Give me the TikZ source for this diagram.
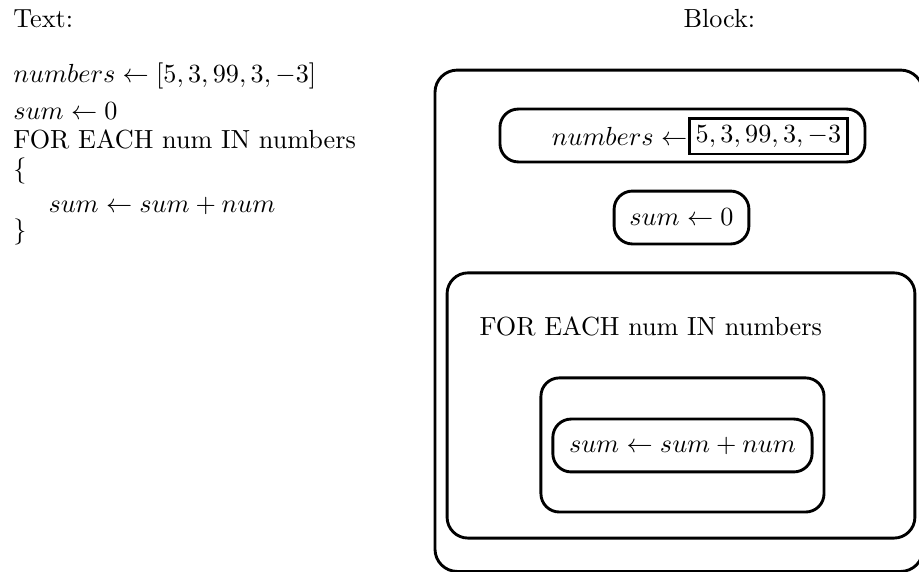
\documentclass[tikz,border=0pt]{standalone}
\usetikzlibrary{positioning}
\tikzset{
  bk box/.style={draw=black, line width=1.1pt, rounded corners=7pt, inner sep=0pt},
  bk list/.style={draw=black, line width=1.1pt, inner sep=2.5pt},
  bk code/.style={anchor=base west, inner sep=0pt}
}
\begin{document}
\begin{tikzpicture}[x=1cm, y=1cm]
  \useasboundingbox (0,0) rectangle (12.336,7.678);
  \clip (0,0) rectangle (12.336,7.678);
  % headings
  \node[bk code] (texthead) at (0.174,7.302) {Text:};
  \node[bk code] (blockhead) at (9.168,7.302) {Block:};
  % text version
  \node[bk code] (tnumbers) at (0.174,6.577) {$numbers \leftarrow [5,3,99,3,-3]$};
  \node[bk code] (tsum) at (0.174,6.067) {$sum \leftarrow 0$};
  \node[bk code] (tfor) at (0.174,5.691) {FOR EACH num IN numbers};
  \node[bk code] (topen) at (0.174,5.29) {$\{$};
  \node[bk code] (tbody) at (0.644,4.832) {$sum \leftarrow sum + num$};
  \node[bk code] (tclose) at (0.174,4.470) {$\}$};
  % block version
  \node[bk box, rounded corners=8.5pt, minimum width=65.5mm, minimum height=67.3mm] (outer) at (9.114,3.372) {};
  \node[bk box, minimum width=49mm, minimum height=7.1mm] (numbox) at (9.161,5.859) {};
  \node[bk list] (numlist) at (10.315,5.846) {$5,3,99,3,-3$};
  \node[anchor=east, inner sep=0pt] (numlabel) at (numlist.west) {$numbers\leftarrow$};
  \node[bk box, minimum width=18.1mm, minimum height=7.1mm] (sumbox) at (9.148,4.758) {$sum \leftarrow 0$};
  \node[bk box, rounded corners=8pt, minimum width=62.8mm, minimum height=35.6mm] (forbox) at (9.141,2.235) {};
  \node[bk code] (forlabel) at (6.430,3.181) {FOR EACH num IN numbers};
  \node[bk box, minimum width=38mm, minimum height=18mm] (loopbox) at (9.161,1.705) {};
  \node[bk box, minimum width=34.8mm, minimum height=7.1mm] (bodybox) at (9.161,1.698) {$sum \leftarrow sum + num$};
\end{tikzpicture}
\end{document}
